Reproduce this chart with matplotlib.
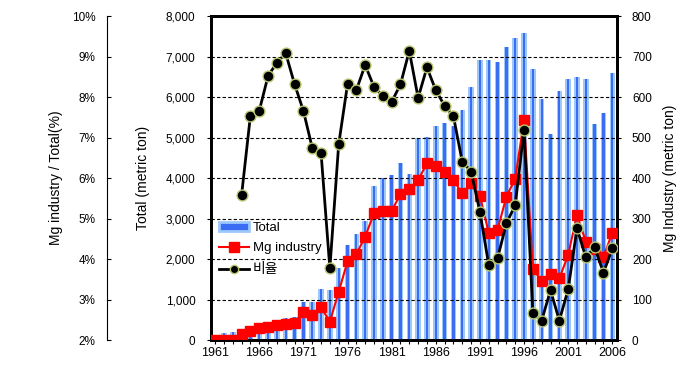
#!/usr/bin/env python
#
# Mg industry vs total consumption, 1961 - 2006
#
import matplotlib
matplotlib.use('Agg')
import numpy as np
import matplotlib.pyplot as plt
from matplotlib.patches import Patch
from matplotlib.lines import Line2D
from matplotlib.ticker import FuncFormatter

plt.rcParams['font.family'] = ['Liberation Sans', 'Noto Sans CJK KR']
plt.rcParams['font.size'] = 8.5

#----------------------------------------------------------------
# data
#----------------------------------------------------------------
years = list(range(1961, 2007))
total = [100, 170, 210, 270, 300, 320, 330, 340, 540, 575,
         945, 945, 1250, 1235, 1770, 2345, 2610, 2940, 3800, 3990,
         4075, 4360, 4100, 4980, 5020, 5285, 5350, 5285, 5680, 6240,
         6915, 6915, 6855, 7240, 7465, 7590, 6680, 5950, 5080, 6150,
         6435, 6500, 6435, 5325, 5600, 6585]
mg_industry = [0, 0, 0, 16, 22, 29, 33, 37, 40, 43,
               70, 62, 81, 45, 119, 194, 212, 255, 313, 319,
               319, 360, 372, 395, 436, 430, 414, 395, 362, 387,
               356, 265, 272, 354, 398, 543, 175, 146, 163, 152,
               210, 309, 243, 225, 205, 265]
ratio = [np.nan, np.nan, np.nan, 5.58, 7.54, 7.66, 8.52, 8.85, 9.08, 8.32,
         7.66, 6.75, 6.63, 3.77, 6.83, 8.31, 8.17, 8.79, 8.25, 8.02,
         7.88, 8.31, 9.14, 7.98, 8.73, 8.17, 7.78, 7.53, 6.40, 6.16,
         5.17, 3.85, 4.02, 4.88, 5.33, 7.19, 2.66, 2.48, 3.23, 2.48,
         3.25, 4.76, 4.04, 4.29, 3.66, 4.26]
xlabels = [str(y) if (y - 1961) % 5 == 0 else '' for y in years]

x = np.arange(len(years))

fig = plt.figure(figsize=(7.0, 3.76), dpi=100)
ax = fig.add_axes([0.301, 0.0957, 0.58, 0.8617])

#----------------------------------------------------------------
# Total bars (two tone)
#----------------------------------------------------------------
ax.bar(x, total, width=0.62, color='#9cc8fb', zorder=2)
ax.bar(x, total, width=0.26, color='#3a6cf4', zorder=3)
for yv in range(1000, 8000, 1000):
    ax.axhline(yv, color='black', lw=0.8, ls=(0, (3, 2)), zorder=4)
ax.set_xlim(-0.5, len(years) - 0.5)
ax.set_ylim(0, 8000)
ax.set_yticks(range(0, 8001, 1000))
ax.yaxis.set_major_formatter(FuncFormatter(lambda v, p: '{:,.0f}'.format(v)))
ax.set_xticks(x)
ax.set_xticklabels(xlabels, fontsize=9)
ax.tick_params(axis='x', length=3, pad=2)
ax.tick_params(axis='y', length=3, pad=8)
ax.set_ylabel('Total (metric ton)', fontsize=10, labelpad=11)
for s in ['left', 'right', 'top', 'bottom']:
    ax.spines[s].set_linewidth(2)

#----------------------------------------------------------------
# Mg industry (right axis)
#----------------------------------------------------------------
ax2 = ax.twinx()
ax2.plot(x, mg_industry, color='#ff0000', lw=1.5, marker='s', ms=6.5,
         mec='#ff0000', zorder=5)
ax2.set_ylim(0, 800)
ax2.set_yticks(range(0, 801, 100))
ax2.tick_params(axis='y', length=3, pad=8)
ax2.set_ylabel('Mg Industry (metric ton)', fontsize=10, labelpad=8)
for s in ['left', 'right', 'top', 'bottom']:
    ax2.spines[s].set_linewidth(2)

#----------------------------------------------------------------
# ratio (outer left axis)
#----------------------------------------------------------------
ax3 = ax.twinx()
ax3.yaxis.set_ticks_position('left')
ax3.yaxis.set_label_position('left')
ax3.spines['left'].set_position(('outward', 75))
ax3.spines['left'].set_visible(True)
ax3.spines['left'].set_linewidth(0.8)
ax3.spines['right'].set_visible(False)
ax3.plot(x, ratio, color='black', lw=2, marker='o', ms=7.8,
         mfc='black', mec='#b8c870', mew=1, zorder=6)
ax3.set_ylim(2, 10)
ax3.set_yticks(range(2, 11))
ax3.yaxis.set_major_formatter(FuncFormatter(lambda v, p: '%d%%' % v))
ax3.tick_params(axis='y', direction='in', length=3, pad=8)
ax3.set_ylabel('Mg industry / Total(%)', fontsize=10, labelpad=6)

#----------------------------------------------------------------
# legend
#----------------------------------------------------------------
handles = [Patch(facecolor='#3a6cf4', edgecolor='#9cc8fb', lw=2),
           Line2D([], [], color='#ff0000', lw=1.5, marker='s', ms=6.5),
           Line2D([], [], color='black', lw=2, marker='o', ms=6,
                  mfc='black', mec='#b8c870')]
leg = ax3.legend(handles, ['Total', 'Mg industry', '비율'], loc='upper left',
                 bbox_to_anchor=(0.0, 0.39), frameon=False, fontsize=9.5,
                 handlelength=2.3, handletextpad=0.3, labelspacing=0.62,
                 borderaxespad=0.2)
leg.get_texts()[2].set_family('Noto Sans CJK KR')
leg.get_texts()[2].set_fontsize(10)

plt.savefig('out.png', dpi=100)
